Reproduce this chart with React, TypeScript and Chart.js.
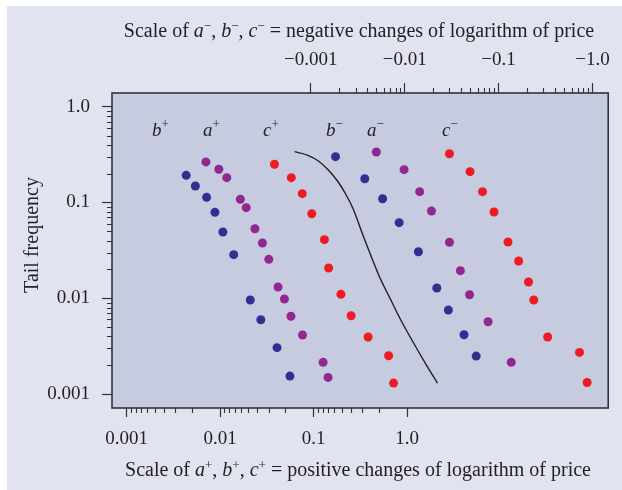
import React, { useEffect, useRef } from 'react';
import { Chart, registerables } from 'chart.js';

Chart.register(...registerables);

// ---- Data (bottom axis: positive changes; top axis: |negative changes|) ----
const B_PLUS_X = [0.00434, 0.00544, 0.00718, 0.00881, 0.01072, 0.01399, 0.02104, 0.02729, 0.04064, 0.05585];
const B_PLUS_Y = [0.192, 0.1486, 0.1132, 0.0789, 0.0491, 0.0285, 0.00959, 0.00597, 0.00305, 0.00154];

const A_PLUS_X = [0.00706, 0.0097, 0.0118, 0.01648, 0.01905, 0.0236, 0.0284, 0.0332, 0.0417, 0.0488, 0.0573, 0.0762, 0.1265, 0.1429];
const A_PLUS_Y = [0.265, 0.222, 0.1815, 0.1079, 0.0882, 0.0532, 0.0377, 0.0255, 0.01311, 0.00982, 0.00648, 0.00413, 0.00214, 0.00149];

const C_PLUS_X = [0.0382, 0.0578, 0.0757, 0.0957, 0.1306, 0.1449, 0.1963, 0.2523, 0.383, 0.635, 0.718];
const C_PLUS_Y = [0.2504, 0.1815, 0.1235, 0.0763, 0.0409, 0.0207, 0.011, 0.00657, 0.00394, 0.00251, 0.0013];

const B_MINUS_X = [0.001836, 0.00376, 0.00582, 0.00873, 0.014, 0.022, 0.0292, 0.0429, 0.0578];
const B_MINUS_Y = [0.3006, 0.177, 0.1095, 0.0615, 0.0306, 0.0128, 0.00754, 0.00416, 0.00249];

const A_MINUS_X = [0.00499, 0.00986, 0.01445, 0.0193, 0.03, 0.0392, 0.0491, 0.0774, 0.1365];
const A_MINUS_Y = [0.3365, 0.22, 0.1296, 0.0815, 0.0384, 0.0194, 0.01089, 0.00569, 0.00214];

const C_MINUS_X = [0.03, 0.0497, 0.0675, 0.0895, 0.1259, 0.1637, 0.2084, 0.237, 0.3334, 0.728, 0.877];
const C_MINUS_Y = [0.323, 0.2096, 0.1296, 0.0795, 0.0387, 0.0245, 0.01478, 0.00959, 0.00394, 0.00272, 0.00132];

const CURVE_X = [0.0627, 0.0883, 0.1127, 0.1439, 0.1836, 0.2234, 0.2655, 0.322, 0.412, 0.526, 0.671, 0.857, 1.208, 1.66, 2.118];
const CURVE_Y = [0.339, 0.309, 0.271, 0.2183, 0.1637, 0.1197, 0.0855, 0.0516, 0.0276, 0.01549, 0.00959, 0.00593, 0.00325, 0.00191, 0.0013];

// ---- Axes ----
const X_MAJOR = [0.001, 0.01, 0.1, 1];
const X_LABELS = ['0.001', '0.01', '0.1', '1.0'];
const X2_MAJOR = [0.001, 0.01, 0.1, 1];
const X2_LABELS = ['\u22120.001', '\u22120.01', '\u22120.1', '\u22121.0'];
const Y_MAJOR = [0.001, 0.01, 0.1, 1];
const Y_LABELS = ['0.001', '0.01', '0.1', '1.0'];

const X_MIN = Math.pow(10, -3.156);
const X_MAX = Math.pow(10, 2.152);
const X2_MIN = Math.pow(10, -5.117);
const X2_MAX = Math.pow(10, 0.168);
const Y_MIN = Math.pow(10, -3.146);
const Y_MAX = Math.pow(10, 0.143);

const DECADES = [-3, -2, -1];
const KS = [2, 3, 4, 5, 6, 7, 8, 9];
// standard log minor ticks
const Y_MINOR = DECADES.flatMap((d) => KS.map((k) => k * Math.pow(10, d)));
const X2_MINOR = DECADES.flatMap((d) => KS.map((k) => k * Math.pow(10, d)));
// bottom axis minor ticks are drawn mirrored in the original figure
const X_MINOR = DECADES.flatMap((d) => KS.map((k) => Math.pow(10, d + 1) / k));

const BLUE = '#2e3192';
const PURPLE = '#92278f';
const RED = '#ed1c24';
const INK = '#231f20';
const SERIF = '"Liberation Serif", "Times New Roman", serif';

type Run = { t: string; font: string; dy: number };

function drawRuns(ctx: CanvasRenderingContext2D, runs: Run[], x: number, y: number, align: 'left' | 'center') {
  ctx.textAlign = 'left';
  ctx.textBaseline = 'alphabetic';
  const widths = runs.map((r) => {
    ctx.font = r.font;
    return ctx.measureText(r.t).width;
  });
  const total = widths.reduce((a, b) => a + b, 0);
  let cx = align === 'center' ? x - total / 2 : x;
  runs.forEach((r, i) => {
    ctx.font = r.font;
    ctx.fillText(r.t, cx, y + r.dy);
    cx += widths[i];
  });
}

const F = 19;
const FT = 20;
const fN = `${FT}px ${SERIF}`;
const fI = `italic ${FT}px ${SERIF}`;
const fS = `13px ${SERIF}`;

function titleRuns(sign: string, rest: string): Run[] {
  return [
    { t: 'Scale of ', font: fN, dy: 0 },
    { t: 'a', font: fI, dy: 0 },
    { t: sign, font: fS, dy: -7 },
    { t: ', ', font: fN, dy: 0 },
    { t: 'b', font: fI, dy: 0 },
    { t: sign, font: fS, dy: -7 },
    { t: ', ', font: fN, dy: 0 },
    { t: 'c', font: fI, dy: 0 },
    { t: sign, font: fS, dy: -7 },
    { t: ' = ' + rest, font: fN, dy: 0 },
  ];
}

const SERIES_LABELS: { l: string; s: string; dx: number }[] = [
  { l: 'b', s: '+', dx: 40 },
  { l: 'a', s: '+', dx: 91 },
  { l: 'c', s: '+', dx: 151 },
  { l: 'b', s: '\u2212', dx: 214 },
  { l: 'a', s: '\u2212', dx: 255 },
  { l: 'c', s: '\u2212', dx: 330 },
];

const decoPlugin = {
  id: 'deco',
  beforeDraw(chart: any) {
    const { ctx, chartArea: a } = chart;
    ctx.save();
    ctx.fillStyle = '#ffffff';
    ctx.fillRect(0, 0, chart.width, chart.height);
    ctx.fillStyle = '#e1e3f0';
    ctx.fillRect(7, 6, chart.width - 7, chart.height - 6);
    ctx.fillStyle = '#c6cbdf';
    ctx.fillRect(a.left, a.top, a.right - a.left, a.bottom - a.top);
    ctx.restore();
  },
  afterDraw(chart: any) {
    const { ctx, chartArea: a, scales } = chart;
    ctx.save();
    ctx.strokeStyle = '#333';
    ctx.lineWidth = 1.1;
    ctx.beginPath();
    Y_MINOR.forEach((v) => {
      const p = Math.round(scales.y.getPixelForValue(v)) + 0.5;
      ctx.moveTo(a.left - 5, p);
      ctx.lineTo(a.left, p);
    });
    X_MINOR.forEach((v) => {
      const p = Math.round(scales.x.getPixelForValue(v)) + 0.5;
      ctx.moveTo(p, a.bottom);
      ctx.lineTo(p, a.bottom + 5);
    });
    X2_MINOR.forEach((v) => {
      const p = Math.round(scales.x2.getPixelForValue(v)) + 0.5;
      ctx.moveTo(p, a.top - 5);
      ctx.lineTo(p, a.top);
    });
    ctx.stroke();

    // frame
    ctx.lineWidth = 1.6;
    ctx.strokeStyle = '#333';
    ctx.strokeRect(a.left, a.top, a.right - a.left, a.bottom - a.top);

    ctx.fillStyle = INK;
    // series labels
    SERIES_LABELS.forEach((s) => {
      drawRuns(
        ctx,
        [
          { t: s.l, font: `italic 19px ${SERIF}`, dy: 0 },
          { t: s.s, font: `13px ${SERIF}`, dy: -8 },
        ],
        a.left + s.dx,
        136,
        'left'
      );
    });

    // axis titles
    drawRuns(ctx, titleRuns('\u2212', 'negative changes of logarithm of price'), 359, 37, 'center');
    drawRuns(ctx, titleRuns('+', 'positive changes of logarithm of price'), 358, 476, 'center');

    ctx.save();
    ctx.translate(33, 235);
    ctx.rotate(-Math.PI / 2);
    ctx.font = fN;
    ctx.textAlign = 'center';
    ctx.textBaseline = 'middle';
    ctx.fillText('Tail frequency', 0, 0);
    ctx.restore();

    ctx.restore();
  },
};

function pts(xs: number[], ys: number[]) {
  return xs.map((x, i) => ({ x, y: ys[i] }));
}

const gridOpts = {
  drawOnChartArea: false,
  drawTicks: true,
  tickLength: 10,
  tickColor: '#333',
  tickWidth: 1.2,
};

export default function App() {
  const ref = useRef<HTMLCanvasElement | null>(null);

  useEffect(() => {
    if (!ref.current) return;
    const dot = (label: string, xs: number[], ys: number[], color: string, axis: string) => ({
      label,
      data: pts(xs, ys),
      xAxisID: axis,
      yAxisID: 'y',
      backgroundColor: color,
      borderColor: color,
      pointRadius: 4.5,
      pointBorderWidth: 0,
      showLine: false,
    });
    const chart = new Chart(ref.current, {
      type: 'scatter',
      data: {
        datasets: [
          {
            label: 'curve',
            data: pts(CURVE_X, CURVE_Y),
            xAxisID: 'x',
            yAxisID: 'y',
            showLine: true,
            pointRadius: 0,
            borderColor: INK,
            borderWidth: 1.4,
            tension: 0.35,
            fill: false,
          } as any,
          dot('b+', B_PLUS_X, B_PLUS_Y, BLUE, 'x'),
          dot('a+', A_PLUS_X, A_PLUS_Y, PURPLE, 'x'),
          dot('c+', C_PLUS_X, C_PLUS_Y, RED, 'x'),
          dot('b-', B_MINUS_X, B_MINUS_Y, BLUE, 'x2'),
          dot('a-', A_MINUS_X, A_MINUS_Y, PURPLE, 'x2'),
          dot('c-', C_MINUS_X, C_MINUS_Y, RED, 'x2'),
        ],
      },
      options: {
        animation: false,
        responsive: false,
        devicePixelRatio: 1,
        layout: { padding: { left: 0, right: 10, top: 0, bottom: 0 } },
        plugins: { legend: { display: false }, tooltip: { enabled: false } },
        scales: {
          x: {
            type: 'logarithmic',
            position: 'bottom',
            min: X_MIN,
            max: X_MAX,
            afterFit: (s: any) => {
              s.height = 82;
            },
            afterBuildTicks: (s: any) => {
              s.ticks = X_MAJOR.map((v) => ({ value: v }));
            },
            ticks: {
              callback: (_v: any, i: number) => X_LABELS[i],
              font: { family: SERIF, size: F },
              color: INK,
              padding: 11,
              maxRotation: 0,
              autoSkip: false,
            },
            grid: { ...gridOpts, tickLength: 9 },
            border: { display: false },
          },
          x2: {
            type: 'logarithmic',
            position: 'top',
            min: X2_MIN,
            max: X2_MAX,
            afterFit: (s: any) => {
              s.height = 93;
            },
            afterBuildTicks: (s: any) => {
              s.ticks = X2_MAJOR.map((v) => ({ value: v }));
            },
            ticks: {
              callback: (_v: any, i: number) => X2_LABELS[i],
              font: { family: SERIF, size: F },
              color: INK,
              padding: 12,
              maxRotation: 0,
              autoSkip: false,
            },
            grid: gridOpts,
            border: { display: false },
          },
          y: {
            type: 'logarithmic',
            position: 'left',
            min: Y_MIN,
            max: Y_MAX,
            afterFit: (s: any) => {
              s.width = 112;
            },
            afterBuildTicks: (s: any) => {
              s.ticks = Y_MAJOR.map((v) => ({ value: v }));
            },
            ticks: {
              callback: (_v: any, i: number) => Y_LABELS[i],
              font: { family: SERIF, size: F },
              color: INK,
              padding: 12,
              autoSkip: false,
            },
            grid: gridOpts,
            border: { display: false },
          },
        },
      } as any,
      plugins: [decoPlugin],
    });
    return () => chart.destroy();
  }, []);

  return (
    <div style={{ position: 'fixed', left: 0, top: 0, width: 622, height: 490, background: '#fff' }}>
      <canvas ref={ref} width={622} height={490} style={{ width: 622, height: 490, display: 'block' }} />
    </div>
  );
}
